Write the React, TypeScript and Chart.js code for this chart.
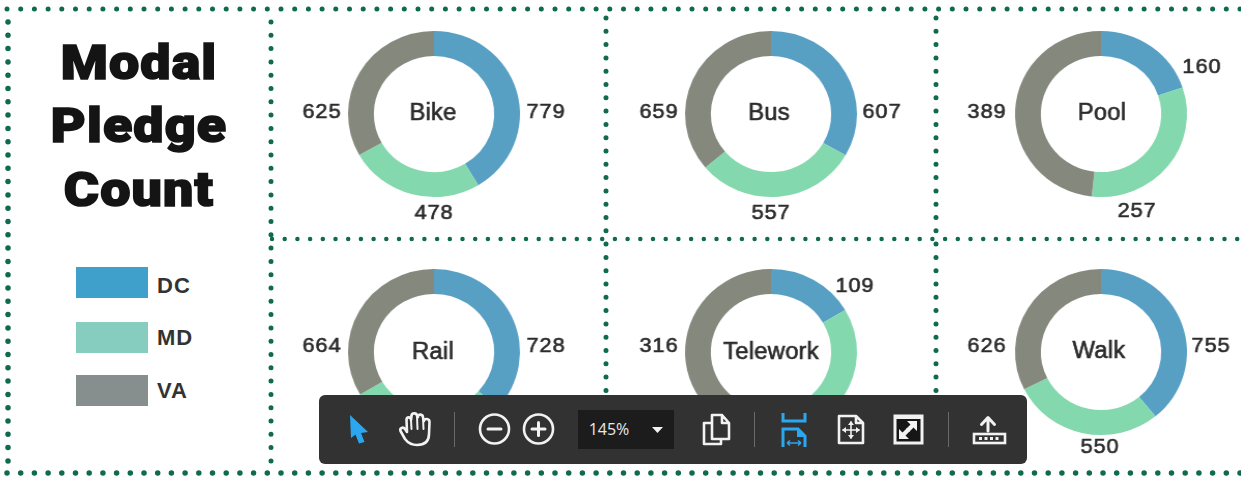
import React, { useEffect, useRef } from "react";
import { Chart, registerables } from "chart.js";

Chart.register(...registerables);

const states = ["DC", "MD", "VA"];
const modes = ["Bike", "Bus", "Pool", "Rail", "Telework", "Walk"];
const bike = [779, 478, 625];
const bus = [607, 557, 659];
const pool = [160, 257, 389];
const rail = [728, 588, 664];
const telework = [109, 233, 316];
const walk = [755, 550, 626];
const modeValues = [bike, bus, pool, rail, telework, walk];
const titleLines = ["Modal", "Pledge", "Count"];

const ringColors = ["#57a0c4", "#84d8ae", "#85887c"];
const legendColors = ["#3fa0cc", "#86cdbf", "#868e8e"];
const centers = [[434, 113.5], [771, 113.5], [1101, 113.5], [434, 351.5], [771, 351.5], [1101, 351.5]];
// label offsets from each ring's centre: DC, MD, VA
const labelOffsets = [
  [[112, -2], [0, 99], [-112, -2]],
  [[111, -2], [0, 99], [-112, -2]],
  [[101, -47], [36, 97], [-114, -2]],
  [[112, -6], [0, 99], [-112, -6]],
  [[84, -66], [60, 95], [-112, -6]],
  [[110, -6], [-1, 95], [-114, -6]],
];
const centerOffsets = [[-1, 0], [-2, 0], [1, 0], [-1, 1], [0, 1], [-2, 0]];
const titleBaselines = [80, 143, 207];
const legendTops = [267, 322, 375];
const legendTextCenters = [286, 338, 391];
const CANVAS_W = 300;
const CANVAS_H = 226;
const STRETCH = 1.036;
const INK = "#2b2b2b";

const ringLabels = {
  id: "ringLabels",
  afterDraw(chart: any, _args: any, opts: any) {
    const { ctx } = chart;
    const arc = chart.getDatasetMeta(0).data[0];
    const { x, y } = arc;
    const put = (s: string, px: number, py: number) => {
      ctx.fillText(s, px, py);
      ctx.strokeText(s, px, py);
    };
    ctx.save();
    ctx.fillStyle = INK;
    ctx.strokeStyle = INK;
    ctx.lineWidth = 0.6;
    ctx.textAlign = "center";
    ctx.textBaseline = "middle";
    ctx.font = '23px "Liberation Sans"';
    ctx.letterSpacing = "0.2px";
    put(opts.name, x + opts.center[0], y + opts.center[1]);
    ctx.font = '21px "Liberation Sans"';
    ctx.letterSpacing = "0.9px";
    chart.data.datasets[0].data.forEach((v: number, i: number) => {
      const [dx, dy] = opts.offsets[i];
      put(String(v), x + dx / STRETCH, y + dy);
    });
    ctx.restore();
  },
};

function Ring({ index }: { index: number }) {
  const ref = useRef<HTMLCanvasElement>(null);
  useEffect(() => {
    const chart = new Chart(ref.current!, {
      type: "doughnut",
      data: {
        labels: states,
        datasets: [{ data: modeValues[index], backgroundColor: ringColors, borderWidth: 0 }],
      },
      options: {
        animation: false,
        responsive: false,
        radius: 83,
        cutout: "70%",
        layout: { padding: 0 },
        plugins: {
          legend: { display: false },
          tooltip: { enabled: false },
          ringLabels: { name: modes[index], offsets: labelOffsets[index], center: centerOffsets[index] },
        } as any,
      },
      plugins: [ringLabels],
    });
    return () => chart.destroy();
  }, [index]);
  const [cx, cy] = centers[index];
  return (
    <canvas
      ref={ref}
      width={CANVAS_W}
      height={CANVAS_H}
      style={{
        position: "absolute",
        left: cx - CANVAS_W / 2,
        top: cy - CANVAS_H / 2,
        width: CANVAS_W,
        height: CANVAS_H,
        transform: `scaleX(${STRETCH})`,
      }}
    />
  );
}

function DottedLine({ x1, y1, x2, y2, gap = 13.4, w = 5 }: any) {
  return (
    <line x1={x1} y1={y1} x2={x2} y2={y2} stroke="#0f6a50" strokeWidth={w}
      strokeLinecap="round" strokeDasharray={`0 ${gap}`} />
  );
}

function Grid() {
  return (
    <svg width={1241} height={477} style={{ position: "absolute", left: 0, top: 0 }}>
      <DottedLine x1={7} y1={9} x2={1241} y2={9} gap={13.7} w={5} />
      <DottedLine x1={7} y1={473} x2={1241} y2={473} gap={13.7} w={5.5} />
      <DottedLine x1={272} y1={239} x2={1241} y2={239} gap={12.7} w={4.5} />
      <DottedLine x1={8} y1={22} x2={8} y2={466} gap={13.3} w={5.5} />
      <DottedLine x1={271} y1={22} x2={271} y2={466} gap={13.3} w={5} />
      <DottedLine x1={606} y1={18} x2={606} y2={466} gap={13.3} w={5} />
      <DottedLine x1={936} y1={18} x2={936} y2={466} gap={13.3} w={5} />
    </svg>
  );
}

function Sidebar() {
  return (
    <>
      {titleLines.map((t, i) => (
        <div key={t} style={{
          position: "absolute", left: 0, width: 278, top: titleBaselines[i] - 47, height: 60,
          textAlign: "center", font: "900 48px/60px Roboto", color: "#141414", letterSpacing: 1,
          transform: "scaleX(1.12)", WebkitTextStroke: "1.6px #141414",
        } as any}>{t}</div>
      ))}
      {states.map((s, i) => (
        <React.Fragment key={s}>
          <div style={{ position: "absolute", left: 76, top: legendTops[i], width: 72, height: 31, background: legendColors[i] }} />
          <div style={{
            position: "absolute", left: 157, top: legendTextCenters[i] - 15,
            font: 'bold 22px/30px "Liberation Sans"', color: "#333", letterSpacing: 1,
          }}>{s}</div>
        </React.Fragment>
      ))}
    </>
  );
}

function Toolbar() {
  const white = "#f2f2f2";
  const blue = "#2aa7ee";
  const sw = { fill: "none", stroke: white, strokeWidth: 2.6, strokeLinecap: "round", strokeLinejoin: "round" } as any;
  const thin = { ...sw, strokeWidth: 1.6 };
  const bw = { ...sw, stroke: blue, strokeWidth: 3, strokeLinecap: "butt", strokeLinejoin: "miter" };
  return (
    <svg width={708} height={70} viewBox="319 395 708 70"
      style={{ position: "absolute", left: 319, top: 395 }}>
      <rect x={319} y={395} width={708} height={69} rx={6} fill="#323232" />
      <path d="M350 415 L368 432 L361 433 L364.5 442 L359 443.5 L355.5 434.5 L351 438 Z" fill={blue} />
      <path d="M405 439 L400.5 431 C399.5 428 403 426.5 405 429 L407 432 L406.5 420 C406.5 416.5 411 416.5 411 420 L411.5 416 C411.5 412.5 417 412.5 417 416 L418 417 C418 413.5 423 414 423 417.5 L424 421 C424 418 429.5 418.5 429.5 422 L429 434 C429 441 425 445 417 445 C411 445 408 443 405 439 Z" {...sw} />
      <path d="M411 420 L411.5 429 M417 416 L417.5 429 M423 417.5 L423.5 429" {...sw} strokeWidth={2} />
      <line x1={454.5} y1={412} x2={454.5} y2={447} stroke="#6a6a6a" strokeWidth={1} />
      <circle cx={494.5} cy={429} r={14.5} {...sw} />
      <line x1={488} y1={429} x2={501} y2={429} {...sw} strokeWidth={3} />
      <circle cx={538.5} cy={429} r={14.5} {...sw} />
      <line x1={532} y1={429} x2={545} y2={429} {...sw} strokeWidth={3} />
      <line x1={538.5} y1={422.5} x2={538.5} y2={435.5} {...sw} strokeWidth={3} />
      <rect x={578} y={410} width={96} height={39} fill="#1c1c1c" />
      <text x={609} y={434.5} textAnchor="middle" fill="#e8e8e8" fontFamily='"Open Sans"' fontSize={16}>145%</text>
      <path d="M652 427 L663 427 L657.5 433 Z" fill={white} />
      <path d="M712 423 L704 423 L704 444 L721 444 L721 439 M712 415 L712 439 L729 439 L729 423 L722 415 Z M722 415 L722 423 L729 423" {...sw} />
      <line x1={754.5} y1={412} x2={754.5} y2={447} stroke="#6a6a6a" strokeWidth={1} />
      <path d="M783 413 L783 421 L805 421 L805 413" {...bw} />
      <path d="M783 447 L783 429 L798 429 L805 436 L805 447" {...bw} />
      <path d="M798 429 L798 436 L805 436" fill={blue} stroke={blue} strokeWidth={2} />
      <path d="M787 443 L801 443 M787 443 L790 440.5 M787 443 L790 445.5 M801 443 L798 440.5 M801 443 L798 445.5" {...bw} strokeWidth={1.6} />
      <path d="M839 416 L856 416 L863 423 L863 443 L839 443 Z M856 416 L856 423 L863 423" {...sw} />
      <path d="M851 422 L851 438 M843 430 L859 430" {...thin} />
      <path d="M851 421 L848 425 L854 425 Z M851 439 L848 435 L854 435 Z M842 430 L846 427 L846 433 Z M860 430 L856 427 L856 433 Z" fill={white} />
      <rect x={895} y={416} width={27} height={27} fill="#161616" stroke={white} strokeWidth={3} />
      <rect x={894} y={415} width={29} height={4} fill={white} />
      <path d="M911 423 L917 423 L917 429 M905 436 L899 436 L899 430" fill="none" stroke={white} strokeWidth={0} />
      <path d="M917 421 L917 431 L913.5 427.5 L909 432 L906 429 L910.5 424.5 L907 421 Z" fill={white} />
      <path d="M899 439 L899 429 L902.5 432.5 L907 428 L910 431 L905.5 435.5 L909 439 Z" fill={white} />
      <line x1={948.5} y1={412} x2={948.5} y2={447} stroke="#6a6a6a" strokeWidth={1} />
      <path d="M988 431 L988 418 M981.5 424.5 L988 417.5 L994.5 424.5" {...sw} strokeWidth={3} />
      <rect x={974} y={434} width={31} height={9} fill="none" stroke={white} strokeWidth={2.6} />
      <path d="M979 438.5 L1000 438.5" stroke={white} strokeWidth={3} strokeDasharray="3 2.5" fill="none" />
    </svg>
  );
}

export default function App() {
  return (
    <div style={{
      position: "fixed", left: 0, top: 0, width: 1241, height: 477, overflow: "hidden",
      background: "#fff", filter: "blur(0.4px)",
    }}>
      <Grid />
      <Sidebar />
      {modes.map((m, i) => <Ring key={m} index={i} />)}
      <Toolbar />
    </div>
  );
}
